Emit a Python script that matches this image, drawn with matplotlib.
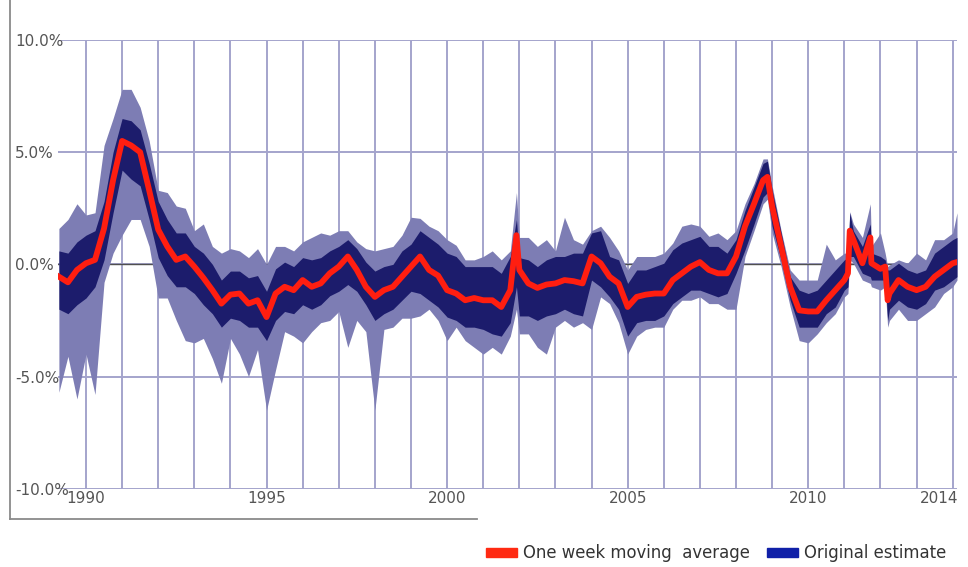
import matplotlib.pyplot as plt
from matplotlib.patches import Patch
from matplotlib.lines import Line2D

years = [1989.25, 1989.5, 1989.75, 1990.0, 1990.25, 1990.5, 1990.75, 1991.0, 1991.25, 1991.5,
         1991.75, 1992.0, 1992.25, 1992.5, 1992.75, 1993.0, 1993.25, 1993.5, 1993.75, 1994.0,
         1994.25, 1994.5, 1994.75, 1995.0, 1995.25, 1995.5, 1995.75, 1996.0, 1996.25, 1996.5,
         1996.75, 1997.0, 1997.25, 1997.5, 1997.75, 1998.0, 1998.25, 1998.5, 1998.75, 1999.0,
         1999.25, 1999.5, 1999.75, 2000.0, 2000.25, 2000.5, 2000.75, 2001.0, 2001.25, 2001.5,
         2001.75, 2001.92, 2002.0, 2002.25, 2002.5, 2002.75, 2003.0, 2003.25, 2003.5, 2003.75,
         2004.0, 2004.25, 2004.5, 2004.75, 2005.0, 2005.25, 2005.5, 2005.75, 2006.0, 2006.25,
         2006.5, 2006.75, 2007.0, 2007.25, 2007.5, 2007.75, 2008.0, 2008.25, 2008.5, 2008.75,
         2008.87, 2009.0, 2009.25, 2009.5, 2009.75, 2010.0, 2010.25, 2010.5, 2010.75, 2011.0,
         2011.1, 2011.15, 2011.25, 2011.5, 2011.72, 2011.75, 2012.0, 2012.13, 2012.2, 2012.25,
         2012.5, 2012.75, 2013.0, 2013.25, 2013.5, 2013.75, 2014.0, 2014.12]

moving_avg = [-0.55, -0.8, -0.25, 0.05, 0.2, 1.6, 3.75, 5.5, 5.3, 5.0,
              3.3, 1.55, 0.8, 0.2, 0.35, -0.1, -0.6, -1.15, -1.75, -1.35,
              -1.3, -1.75, -1.6, -2.35, -1.3, -1.0, -1.15, -0.7, -1.0, -0.85,
              -0.4, -0.1, 0.35, -0.25, -1.0, -1.45, -1.15, -1.0, -0.55, -0.1,
              0.35, -0.25, -0.5, -1.15, -1.3, -1.6, -1.5, -1.6, -1.6, -1.9,
              -1.15, 1.3, -0.25, -0.85, -1.05, -0.9, -0.85, -0.7, -0.75, -0.85,
              0.35, 0.05, -0.55, -0.85, -1.9, -1.45, -1.35, -1.3, -1.3, -0.7,
              -0.4, -0.1, 0.1, -0.25, -0.4, -0.4, 0.35, 1.7, 2.7, 3.75,
              3.9, 2.6, 0.8, -1.0, -2.05, -2.1, -2.1, -1.6, -1.15, -0.7,
              -0.4, 1.5, 1.1, 0.05, 1.2, 0.05, -0.2, -0.1, -1.6, -1.3,
              -0.7, -1.0, -1.15, -1.0, -0.55, -0.25, 0.05, 0.1]

# dense part of the daily estimate
orig_hi = [0.6, 0.5, 1.0, 1.3, 1.5, 2.8, 5.0, 6.5, 6.4, 6.0,
           4.5, 2.8, 2.0, 1.4, 1.4, 0.8, 0.5, 0.0, -0.7, -0.3,
           -0.3, -0.6, -0.5, -1.2, -0.2, 0.1, -0.1, 0.3, 0.2, 0.3,
           0.6, 0.8, 1.1, 0.7, 0.1, -0.3, -0.1, 0.0, 0.6, 0.9,
           1.5, 1.2, 0.9, 0.5, 0.35, -0.1, -0.1, -0.1, -0.1, -0.4,
           0.35, 2.0, 0.3, 0.2, -0.1, 0.2, 0.35, 0.35, 0.5, 0.5,
           1.4, 1.5, 0.35, 0.2, -0.85, -0.25, -0.25, -0.1, 0.05, 0.65,
           0.95, 1.1, 1.25, 0.8, 0.8, 0.5, 1.1, 2.4, 3.45, 4.5,
           4.6, 3.3, 1.4, -0.55, -1.15, -1.3, -1.15, -0.7, -0.25, 0.2,
           0.3, 2.3, 1.5, 0.8, 1.8, 0.5, 0.35, 0.2, -0.25, -0.25,
           0.05, -0.25, -0.4, -0.25, 0.5, 0.8, 1.1, 1.2]

orig_lo = [-2.0, -2.2, -1.8, -1.5, -1.0, 0.2, 2.3, 4.2, 3.8, 3.5,
           2.0, 0.3, -0.5, -1.0, -1.0, -1.3, -1.8, -2.2, -2.8, -2.4,
           -2.5, -2.8, -2.8, -3.4, -2.5, -2.1, -2.2, -1.8, -2.0, -1.8,
           -1.4, -1.2, -0.9, -1.2, -1.8, -2.5, -2.2, -2.0, -1.6, -1.2,
           -1.3, -1.6, -1.9, -2.35, -2.5, -2.8, -2.8, -2.9, -3.1, -3.2,
           -2.6, -1.0, -2.3, -2.3, -2.5, -2.3, -2.2, -2.0, -2.2, -2.3,
           -0.7, -1.0, -1.45, -2.0, -3.2, -2.6, -2.5, -2.5, -2.3, -1.75,
           -1.45, -1.15, -1.15, -1.3, -1.45, -1.3, -0.4, 0.65, 1.8, 3.0,
           3.2, 1.7, 0.2, -1.6, -2.8, -2.8, -2.8, -2.2, -1.9, -1.15,
           -1.0, 0.35, 0.35, -0.4, -0.55, -0.7, -0.7, -0.7, -2.5, -2.0,
           -1.6, -1.9, -2.0, -1.75, -1.15, -1.0, -0.7, -0.55]

# outer reach of the single-day spikes
spike_hi = [1.6, 2.0, 2.7, 2.2, 2.3, 5.3, 6.5, 7.8, 7.8, 7.0,
            5.5, 3.3, 3.2, 2.6, 2.5, 1.5, 1.8, 0.8, 0.5, 0.7,
            0.6, 0.3, 0.7, 0.0, 0.8, 0.8, 0.6, 1.0, 1.2, 1.4,
            1.3, 1.5, 1.5, 1.0, 0.7, 0.6, 0.7, 0.8, 1.3, 2.1,
            2.05, 1.7, 1.5, 1.1, 0.85, 0.2, 0.2, 0.35, 0.6, 0.2,
            0.6, 3.2, 1.2, 1.2, 0.8, 1.1, 0.6, 2.1, 1.1, 0.9,
            1.5, 1.7, 1.2, 0.6, -0.25, 0.35, 0.35, 0.35, 0.5, 0.95,
            1.7, 1.8, 1.7, 1.25, 1.4, 1.1, 1.5, 2.7, 3.6, 4.7,
            4.7, 3.5, 1.5, -0.25, -0.7, -0.7, -0.7, 0.9, 0.2, 0.5,
            0.5, 2.35, 1.8, 1.2, 2.7, 0.8, 1.4, 0.5, -0.1, -0.03,
            0.2, 0.05, 0.5, 0.2, 1.1, 1.1, 1.4, 2.3]

spike_lo = [-5.7, -4.1, -6.0, -4.0, -5.8, -0.8, 0.5, 1.3, 2.0, 2.0,
            0.8, -1.5, -1.5, -2.5, -3.4, -3.5, -3.3, -4.2, -5.3, -3.3,
            -4.0, -5.0, -3.8, -6.5, -4.7, -3.0, -3.2, -3.5, -3.0, -2.6,
            -2.5, -2.1, -3.7, -2.5, -3.0, -6.5, -2.9, -2.8, -2.4, -2.4,
            -2.3, -2.0, -2.5, -3.4, -2.8, -3.4, -3.7, -4.0, -3.7, -4.0,
            -3.2, -2.0, -3.1, -3.1, -3.7, -4.0, -2.8, -2.5, -2.8, -2.6,
            -2.9, -1.45, -1.75, -2.6, -4.0, -3.2, -2.9, -2.8, -2.8, -2.0,
            -1.6, -1.6, -1.45, -1.75, -1.75, -2.0, -2.0, 0.35, 1.5, 2.7,
            2.9, 1.4, -0.1, -1.9, -3.4, -3.5, -3.1, -2.6, -2.2, -1.45,
            -1.3, 0.2, 0.05, -0.7, -0.85, -1.0, -1.15, -1.0, -2.8, -2.5,
            -2.0, -2.5, -2.5, -2.2, -1.9, -1.3, -1.0, -0.7]

grid_years = list(range(1990, 2015))
label_years = [1990, 1995, 2000, 2005, 2010]
last_year = 2014
pct_ticks = [10, 5, 0, -5, -10]
pct_labels = ['10.0%', '5.0%', '0.0%', '-5.0%', '-10.0%']

W, H = 968, 567
fig = plt.figure(figsize=(W / 100, H / 100), dpi=100)
ax = fig.add_axes([58 / W, 1 - 488.7 / H, 899 / W, 448.7 / H])

grid_col = '#a4a4cc'
label_col = '#555555'
ax.set_xlim(1989.225, 2014.12)
ax.set_ylim(-10, 10)
ax.set_xticks(grid_years, minor=True)
ax.set_xticks(label_years)
ax.set_xticklabels([str(y) for y in label_years])
ax.set_yticks(pct_ticks)
ax.set_yticklabels(pct_labels)
ax.grid(which='both', axis='x', color=grid_col, lw=1.4)
ax.grid(which='major', axis='y', color=grid_col, lw=1.4)
ax.set_axisbelow(True)
for s in ax.spines.values():
    s.set_visible(False)

ax.tick_params(which='both', length=0)
ax.tick_params(axis='x', pad=1.5, labelsize=11, labelcolor=label_col)
ax.tick_params(axis='y', pad=31, labelsize=11, labelcolor=label_col)
for lbl in ax.get_yticklabels():
    lbl.set_horizontalalignment('left')

# last year label sits flush against the right edge of the plot
ax.annotate(str(last_year), xy=(last_year, 0), xycoords=('data', 'axes fraction'),
            xytext=(4, -1.5), textcoords='offset points', ha='right', va='top',
            fontsize=11, color=label_col)

ax.axhline(0, color='#505050', lw=1.0, zorder=1)

ax.fill_between(years, spike_lo, spike_hi, color='#7d7db4', lw=0, zorder=2)
ax.fill_between(years, orig_lo, orig_hi, color='#1c1c6c', lw=0, zorder=3)
ax.plot(years, moving_avg, color='#ff1e10', lw=4.2, solid_joinstyle='round', zorder=4)

# box edge left over from the source page
fig.add_artist(Line2D([10 / W, 10 / W], [1, 1 - 519 / H], color='#8a8a8a', lw=1.3))
fig.add_artist(Line2D([10 / W, 477 / W], [1 - 519 / H, 1 - 519 / H], color='#8a8a8a', lw=1.3))

handles = [Patch(color='#ff2a12'), Patch(color='#1020a8')]
fig.legend(handles, ['One week moving  average', 'Original estimate'],
           loc='center left', bbox_to_anchor=(486 / W, 1 - 553 / H), ncol=2,
           frameon=False, fontsize=11.9, handlelength=1.9, handleheight=0.45,
           handletextpad=0.35, columnspacing=1.0, borderpad=0, borderaxespad=0,
           labelcolor='#333333')

fig.savefig('out.png', dpi=100)
